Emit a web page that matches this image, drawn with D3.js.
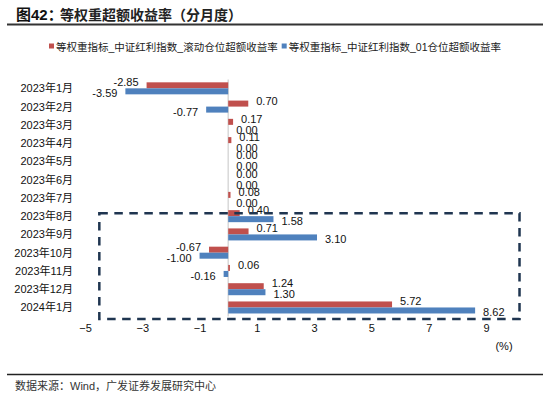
<!DOCTYPE html>
<html><head><meta charset="utf-8">
<script src="https://cdn.jsdelivr.net/npm/d3@7"></script>
<style>body{margin:0;background:#fff} svg{display:block}</style></head>
<body>
<svg id="c" width="550" height="397"></svg>
<script>
const categories = ["2023年1月","2023年2月","2023年3月","2023年4月","2023年5月","2023年6月","2023年7月","2023年8月","2023年9月","2023年10月","2023年11月","2023年12月","2024年1月"];
const seriesNames = ["等权重指标_中证红利指数_滚动仓位超额收益率","等权重指标_中证红利指数_01仓位超额收益率"];
const rollingValues = [-2.85,0.70,0.17,0.11,0.00,0.00,0.08,0.40,0.71,-0.67,0.06,1.24,5.72];
const fixedValues = [-3.59,-0.77,0.00,0.00,0.00,0.00,0.00,1.58,3.10,-1.00,-0.16,1.30,8.62];
const xTicks = [-5,-3,-1,1,3,5,7,9];
const highlightRange = ["2023年8月","2024年1月"];
const colors = ["#C0504D","#4F81BD"];

const svg = d3.select("#c");
const FONT = "'Liberation Sans', Arial, 'Noto Sans CJK SC', sans-serif";

// Title
const title = svg.append("text").attr("x",16).attr("y",14).attr("dominant-baseline","central")
  .style("font-family",FONT).style("font-weight","bold").style("font-size","15px").attr("fill","#111");
title.append("tspan").text("图42：");
svg.append("text").attr("x",60).attr("y",14).attr("dominant-baseline","central")
  .style("font-family","'Noto Sans CJK SC', sans-serif").style("font-weight","bold").style("font-size","14px")
  .attr("fill","#222").text("等权重超额收益率（分月度）");
svg.append("line").attr("x1",7).attr("x2",543).attr("y1",24.5).attr("y2",24.5).attr("stroke","#333").attr("stroke-width",2);

// Legend
let lx = 49;
seriesNames.forEach((name,i)=>{
  svg.append("rect").attr("x",lx).attr("y",43.5).attr("width",5).attr("height",5).attr("fill",colors[i]);
  const t = svg.append("text").attr("x",lx+7).attr("y",46.5).attr("dominant-baseline","central")
    .style("font-family",FONT).style("font-size","10.5px").attr("fill","#222").text(name);
  lx = lx + 7 + t.node().getComputedTextLength() + 4;
});

// Scales
const x = d3.scaleLinear().domain([-5,9]).range([85,486]);
const y = d3.scaleBand().domain(categories).range([79.2,316.6]).padding(0);
const sub = d3.scaleBand().domain([0,1]).range([0,y.bandwidth()]).paddingInner(0).paddingOuter(0.52);

const series = [rollingValues, fixedValues];

// zero line
svg.append("line").attr("x1",x(0)).attr("x2",x(0)).attr("y1",79.5).attr("y2",316.6)
  .attr("stroke","#d9d9d9").attr("stroke-width",1.5);

// bars
series.forEach((vals,si)=>{
  svg.append("g").selectAll("rect").data(vals).join("rect")
    .attr("x",d=>Math.min(x(0),x(d)))
    .attr("width",d=>Math.abs(x(d)-x(0)))
    .attr("y",(d,i)=>y(categories[i])+sub(si))
    .attr("height",sub.bandwidth())
    .attr("fill",colors[si]);
});

// labels
const dyOff = [-3, 2];
series.forEach((vals,si)=>{
  svg.append("g").selectAll("text").data(vals).join("text")
    .attr("x",d=> d<0 ? x(d)-8 : x(d)+8)
    .attr("y",(d,i)=>y(categories[i])+sub(si)+sub.bandwidth()/2+dyOff[si])
    .attr("text-anchor",d=> d<0 ? "end":"start")
    .attr("dominant-baseline","central")
    .style("font-family",FONT).style("font-size","11px").attr("fill","#111")
    .text(d=>d.toFixed(2));
});

// category labels
svg.append("g").selectAll("text").data(categories).join("text")
  .attr("x",73).attr("y",d=>y(d)+y.bandwidth()/2)
  .attr("text-anchor","end").attr("dominant-baseline","central")
  .style("font-family",FONT).style("font-size","11px").attr("fill","#111").text(d=>d);

// x axis
const xa = svg.append("g").attr("transform","translate(0,324)")
  .call(d3.axisBottom(x).tickValues(xTicks).tickSize(0).tickPadding(0).tickFormat(d3.format("d")));
xa.select(".domain").remove();
xa.selectAll("text").style("font-family",FONT).style("font-size","11px").attr("fill","#111");
svg.append("text").attr("x",504).attr("y",346).attr("text-anchor","middle").attr("dominant-baseline","central")
  .style("font-family",FONT).style("font-size","11px").attr("fill","#111").text("(%)");

// highlight box
const hTop = y(highlightRange[0]) + sub(0) + sub.bandwidth()/2;
const hBot = y(highlightRange[1]) + y.bandwidth() + 2.5;
svg.append("rect").attr("x",x(-4.5)).attr("y",hTop).attr("width",x(10.17)-x(-4.5)).attr("height",hBot-hTop)
  .attr("fill","none").attr("stroke","#1F3550").attr("stroke-width",2.5).attr("stroke-dasharray","8.5,6.5");

// source
svg.append("line").attr("x1",7).attr("x2",543).attr("y1",374.5).attr("y2",374.5).attr("stroke","#222").attr("stroke-width",1.5);
svg.append("text").attr("x",15).attr("y",386).attr("dominant-baseline","central")
  .style("font-family",FONT).style("font-size","11px").attr("fill","#333").text("数据来源：Wind，广发证券发展研究中心");
</script>
</body></html>
